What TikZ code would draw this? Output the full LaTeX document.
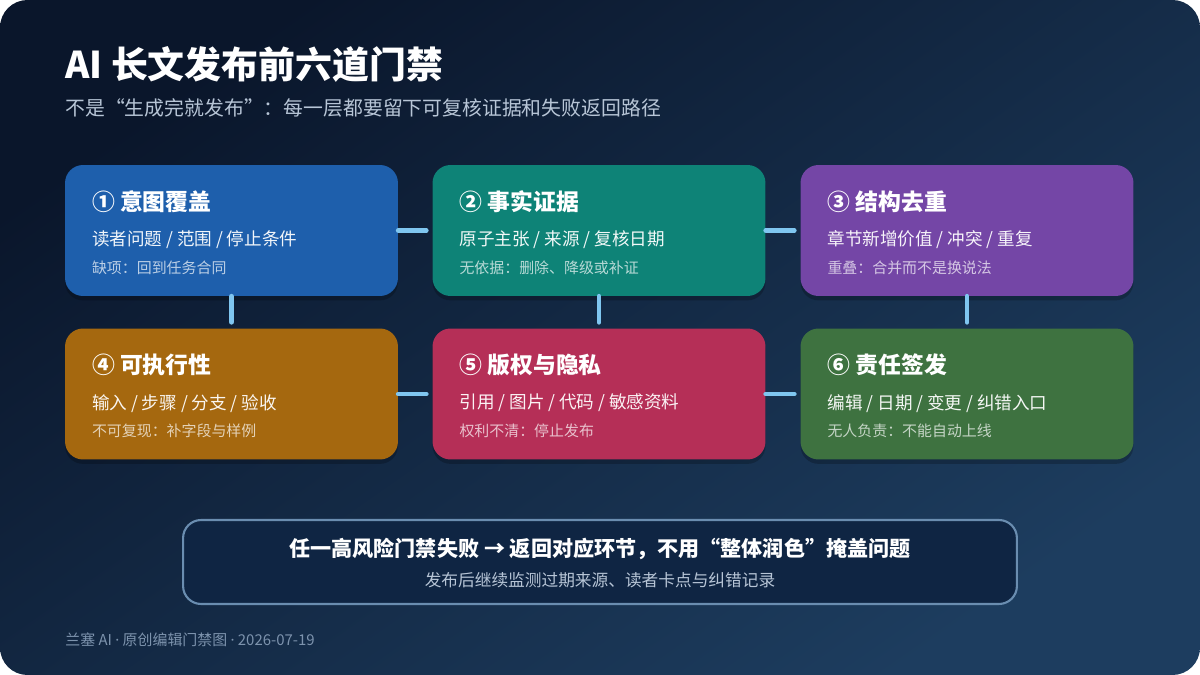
\documentclass[tikz,border=0pt]{standalone}
\usepackage{fontspec}
\setmainfont{Noto Sans CJK SC}
\newfontfamily\latinfont{Noto Sans}
\usetikzlibrary{calc, shadows, positioning}
\definecolor{bgtop}{HTML}{0A162B}
\definecolor{bgbot}{HTML}{1D3D5F}
\definecolor{gblue}{HTML}{1E5FAC}
\definecolor{gteal}{HTML}{0E8377}
\definecolor{gpurple}{HTML}{7446A6}
\definecolor{gorange}{HTML}{A5680F}
\definecolor{gred}{HTML}{B52F57}
\definecolor{ggreen}{HTML}{3E7240}
\definecolor{linkblue}{HTML}{7FC6F0}
\definecolor{notefill}{HTML}{0F2543}
\definecolor{noteline}{HTML}{6A8DB0}
\definecolor{subgray}{HTML}{B7C5D6}
\definecolor{footgray}{HTML}{7D93AD}

\begin{document}
\begin{tikzpicture}[x=0.02cm, y=-0.02cm,
  gate/.style={rounded corners=0.36cm, minimum width=6.66cm, minimum height=2.62cm,
    inner sep=0pt, drop shadow={shadow xshift=0pt, shadow yshift=-2.5pt, opacity=0.22, fill=black}},
  gtitle/.style={anchor=west, inner sep=0pt, text=white, font=\fontsize{13}{15}\selectfont\bfseries},
  gmain/.style={anchor=west, inner sep=0pt, font=\fontsize{10}{12}\selectfont},
  gnote/.style={anchor=west, inner sep=0pt, font=\fontsize{8.5}{10}\selectfont},
  link/.style={draw=linkblue, line width=2.8pt, line cap=round, shorten >=0.12cm}]
  \useasboundingbox (0,0) rectangle (1200,675);
  \fill[white] (0,0) rectangle (1200,675);
  \shade[rounded corners=0.55cm, top color=bgtop, bottom color=bgbot, shading angle=35]
    (0,0) rectangle (1200,675);

  % heading
  \node[anchor=west, inner sep=0pt, text=white, font=\fontsize{21}{24}\selectfont\bfseries]
    (title) at (65,64) {AI 长文发布前六道门禁};
  \node[anchor=west, inner sep=0pt, text=subgray, font=\fontsize{11.3}{13}\selectfont]
    (subtitle) at (65,108) {不是“生成完就发布”：每一层都要留下可复核证据和失败返回路径};

  % six gates
  \foreach \n/\cx/\cy/\col/\ttl/\lineA/\lineB in {
    1/231.5/230.5/gblue/{① 意图覆盖}/{读者问题 / 范围 / 停止条件}/{缺项：回到任务合同},
    2/599/230.5/gteal/{② 事实证据}/{原子主张 / 来源 / 复核日期}/{无依据：删除、降级或补证},
    3/967/230.5/gpurple/{③ 结构去重}/{章节新增价值 / 冲突 / 重复}/{重叠：合并而不是换说法},
    4/231.5/394/gorange/{④ 可执行性}/{输入 / 步骤 / 分支 / 验收}/{不可复现：补字段与样例},
    5/599/394/gred/{⑤ 版权与隐私}/{引用 / 图片 / 代码 / 敏感资料}/{权利不清：停止发布},
    6/967/394/ggreen/{⑥ 责任签发}/{编辑 / 日期 / 变更 / 纠错入口}/{无人负责：不能自动上线}}{
    \node[gate, fill=\col] (g\n) at (\cx,\cy) {};
    \node[gtitle] (g\n t) at ($(g\n.north west)+(27,37)$) {\ttl};
    \node[gmain, text=\col!6!white] (g\n a) at ($(g\n.north west)+(27,75)$) {\lineA};
    \node[gnote, text=\col!30!white] (g\n b) at ($(g\n.north west)+(27,103)$) {\lineB};
  }

  % links between gates
  \foreach \a/\b in {1/2,2/3,4/5,5/6}
    \draw[link] (g\a.east) -- (g\b.west);
  \foreach \a/\b in {1/4,2/5,3/6}
    \draw[link] (g\a.south) -- (g\b.north);

  % fallback rule
  \node[draw=noteline, line width=1.2pt, fill=notefill, rounded corners=0.36cm,
    minimum width=16.68cm, minimum height=1.68cm] (rule) at (600,562) {};
  \node[inner sep=0pt, text=white, font=\fontsize{12}{14}\selectfont\bfseries]
    (ruletext) at (600,549) {任一高风险门禁失败 → 返回对应环节，不用“整体润色”掩盖问题};
  \node[inner sep=0pt, text=subgray, font=\fontsize{9.5}{11}\selectfont]
    (rulesub) at (600,580) {发布后继续监测过期来源、读者卡点与纠错记录};

  \node[anchor=west, inner sep=0pt, text=footgray, font=\fontsize{8.5}{10}\selectfont]
    (footer) at (65,640) {兰塞 AI {\latinfont·} 原创编辑门禁图 {\latinfont·} 2026-07-19};
\end{tikzpicture}
\end{document}
